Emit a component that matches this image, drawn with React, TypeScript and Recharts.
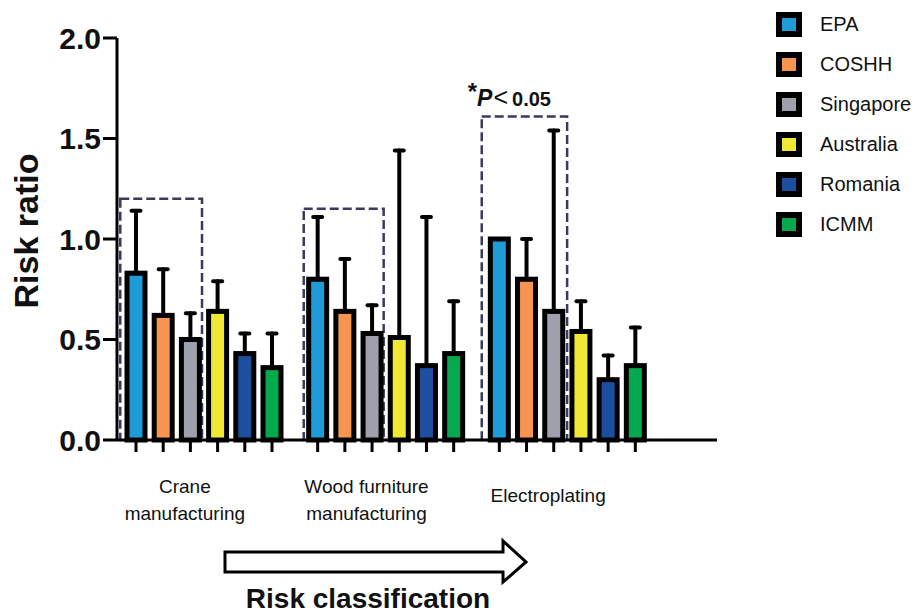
import React from "react";
import { ComposedChart, Bar, XAxis, YAxis, ErrorBar, ReferenceArea, Legend } from "recharts";

const FONT = "'Liberation Sans', Arial, Helvetica, sans-serif";

const categories = ["Crane\nmanufacturing", "Wood furniture\nmanufacturing", "Electroplating"];
const seriesNames = ["EPA", "COSHH", "Singapore", "Australia", "Romania", "ICMM"];
const seriesColors = ["#1f9bd8", "#f7944f", "#9ea1ab", "#efe935", "#1d4fa1", "#06a84e"];

const epaMean = [0.83, 0.8, 1.0];
const epaUpper = [1.14, 1.11, 1.0];
const coshhMean = [0.62, 0.64, 0.8];
const coshhUpper = [0.85, 0.9, 1.0];
const singaporeMean = [0.5, 0.53, 0.64];
const singaporeUpper = [0.63, 0.67, 1.54];
const australiaMean = [0.64, 0.51, 0.54];
const australiaUpper = [0.79, 1.44, 0.69];
const romaniaMean = [0.43, 0.37, 0.3];
const romaniaUpper = [0.53, 1.11, 0.42];
const icmmMean = [0.36, 0.43, 0.37];
const icmmUpper = [0.53, 0.69, 0.56];

const yTicks = [0, 0.5, 1.0, 1.5, 2.0];

// highlighted groups (dashed boxes), in category-band units (0 = start of first band)
const boxStart = [0.04, 1.05, 2.03];
const boxEnd = [0.49, 1.49, 2.5];
const boxTop = [1.2, 1.15, 1.61];

const means = [epaMean, coshhMean, singaporeMean, australiaMean, romaniaMean, icmmMean];
const uppers = [epaUpper, coshhUpper, singaporeUpper, australiaUpper, romaniaUpper, icmmUpper];

const data = categories.map((c, i) => {
  const row: any = { name: c, pos: i };
  seriesNames.forEach((s, k) => {
    row[s] = means[k][i];
    row[s + "_err"] = [0, Math.max(0, uppers[k][i] - means[k][i])];
  });
  return row;
});

const BarShape = (props: any) => {
  const { x, y, width, height, fill } = props;
  const cx = x + width / 2;
  const base = y + height;
  return (
    <g>
      <rect x={x} y={y} width={width} height={height} fill={fill} stroke="#000" strokeWidth={5} />
      <line x1={cx} x2={cx} y1={base} y2={base + 12} stroke="#000" strokeWidth={3} />
    </g>
  );
};

const XTick = (props: any) => {
  const { x, payload } = props;
  const lines = String(payload.value).split("\n");
  const baseY = lines.length === 1 ? 502 : 493;
  return (
    <text textAnchor="middle" fontSize={19} fill="#111" fontFamily={FONT}>
      {lines.map((l, i) => (
        <tspan key={i} x={x - 19} y={baseY + i * 27}>
          {l}
        </tspan>
      ))}
    </text>
  );
};

const PLabel = (props: any) => {
  const vb = props.viewBox || {};
  const x = vb.x;
  const y = vb.y;
  return (
    <text x={x - 14} y={y - 10} fill="#111" fontFamily={FONT}>
      <tspan fontSize={24} fontWeight="bold" dy={-6}>*</tspan>
      <tspan fontSize={23} fontWeight="bold" fontStyle="italic" dy={6}>P</tspan>
      <tspan fontSize={25} dx={1}>{"<"}</tspan>
      <tspan fontSize={20} fontWeight="bold" dx={4}>0.05</tspan>
    </text>
  );
};

const LegendContent = (props: any) => {
  const payload = [...(props.payload || [])].sort(
    (a: any, b: any) => seriesNames.indexOf(a.value) - seriesNames.indexOf(b.value)
  );
  return (
    <div style={{ fontFamily: FONT }}>
      {payload.map((e: any, i: number) => (
        <div key={i} style={{ display: "flex", alignItems: "center", height: 40 }}>
          <div
            style={{
              width: 14,
              height: 13,
              background: e.color,
              border: "6px solid #000",
              boxSizing: "content-box",
            }}
          />
          <span style={{ marginLeft: 18, fontSize: 20, color: "#111" }}>{e.value}</span>
        </div>
      ))}
    </div>
  );
};

export default function App() {
  return (
    <div style={{ position: "absolute", left: 0, top: 0, width: 918, height: 613, background: "#fff" }}>
      <ComposedChart
        width={918}
        height={613}
        data={data}
        margin={{ top: 38, right: 201, bottom: 113, left: 0 }}
        barSize={18}
        barGap={9.2}
      >
        <XAxis
          dataKey="name"
          type="category"
          height={60}
          padding={{ left: -4, right: 59 }}
          tickLine={false}
          axisLine={{ stroke: "#000", strokeWidth: 3 }}
          tick={<XTick />}
          interval={0}
        />
        <XAxis
          xAxisId="num"
          dataKey="pos"
          type="number"
          domain={[0, 2]}
          allowDataOverflow={true}
          hide
          padding={{ left: -4, right: 240.7 }}
        />
        <YAxis
          width={117}
          domain={[0, 2]}
          ticks={yTicks}
          interval={0}
          tickFormatter={(v: number) => v.toFixed(1)}
          tick={{ fontSize: 30, fontWeight: "bold", fill: "#111", fontFamily: FONT }}
          tickSize={14}
          tickMargin={2}
          tickLine={{ stroke: "#000", strokeWidth: 3 }}
          axisLine={{ stroke: "#000", strokeWidth: 3 }}
        />
        {boxStart.map((b, i) => (
          <ReferenceArea
            key={i}
            xAxisId="num"
            x1={b}
            x2={boxEnd[i]}
            y1={0}
            y2={boxTop[i]}
            fill="none"
            fillOpacity={0}
            stroke="#3a3a5e"
            strokeWidth={2.5}
            strokeDasharray="9 4"
            ifOverflow="visible"
            label={i === 2 ? <PLabel /> : undefined}
          />
        ))}
        {seriesNames.map((s, k) => (
          <Bar key={s} dataKey={s} name={s} fill={seriesColors[k]} shape={<BarShape />} isAnimationActive={false}>
            <ErrorBar
              dataKey={s + "_err"}
              direction="y"
              width={4.5}
              stroke="#000"
              strokeWidth={4}
              strokeLinecap="round"
              isAnimationActive={false}
            />
          </Bar>
        ))}
        <Legend
          layout="vertical"
          align="center"
          verticalAlign="middle"
          content={<LegendContent />}
          wrapperStyle={{ left: 776, top: 4, width: 142, height: 240 }}
        />
      </ComposedChart>
      <svg
        width={918}
        height={613}
        style={{ position: "absolute", left: 0, top: 0, pointerEvents: "none" }}
      >
        <text
          transform="translate(38,231) rotate(-90)"
          textAnchor="middle"
          fontSize={34}
          fontWeight="bold"
          fill="#111"
          fontFamily={FONT}
        >
          Risk ratio
        </text>
        <polygon
          points="225,552 503,552 503,541 526,562 503,582 503,572 225,572"
          fill="#fff"
          stroke="#000"
          strokeWidth={3}
        />
        <text x={368} y={608} textAnchor="middle" fontSize={28} fontWeight="bold" fill="#111" fontFamily={FONT}>
          Risk classification
        </text>
      </svg>
    </div>
  );
}
